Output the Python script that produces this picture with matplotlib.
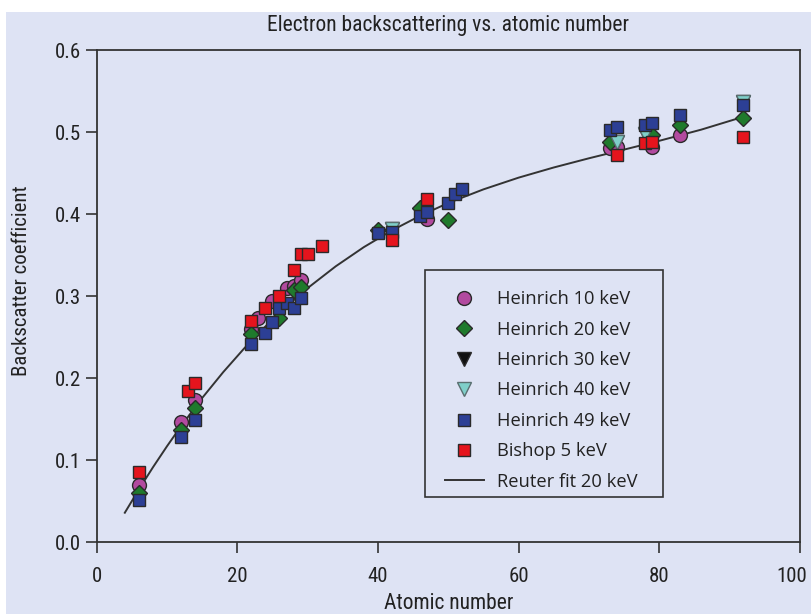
import matplotlib
matplotlib.use("Agg")
import matplotlib.pyplot as plt
from matplotlib.patches import Rectangle
from matplotlib.transforms import ScaledTranslation
from matplotlib import font_manager

# Heinrich 10 keV
h10_z = [6, 12, 14, 22, 23, 25, 27, 28, 29, 47, 73, 74, 79, 83]
h10_eta = [0.069, 0.146, 0.173, 0.260, 0.273, 0.294, 0.310, 0.312, 0.319, 0.394, 0.480, 0.482, 0.482, 0.496]

# Heinrich 20 keV
h20_z = [6, 12, 14, 22, 26, 28, 29, 40, 46, 50, 73, 79, 83, 92]
h20_eta = [0.060, 0.137, 0.163, 0.254, 0.273, 0.307, 0.311, 0.380, 0.407, 0.393, 0.488, 0.496, 0.509, 0.517]

# Heinrich 30 keV
h30_z = [42, 74, 78, 92]
h30_eta = [0.382, 0.488, 0.498, 0.537]

# Heinrich 40 keV
h40_z = [42, 74, 78, 92]
h40_eta = [0.382, 0.488, 0.498, 0.537]

# Heinrich 49 keV
h49_z = [6, 12, 14, 22, 24, 25, 26, 27, 28, 29, 40, 42, 46, 47, 50, 51, 52, 73, 74, 78, 79, 83, 92]
h49_eta = [0.051, 0.128, 0.149, 0.241, 0.255, 0.268, 0.285, 0.291, 0.285, 0.298, 0.377, 0.378,
           0.397, 0.402, 0.414, 0.425, 0.431, 0.502, 0.506, 0.509, 0.511, 0.521, 0.533]

# Bishop 5 keV
b5_z = [6, 13, 14, 22, 24, 26, 28, 29, 30, 32, 42, 47, 74, 78, 79, 92]
b5_eta = [0.085, 0.184, 0.194, 0.270, 0.285, 0.300, 0.332, 0.351, 0.351, 0.361, 0.368, 0.418,
          0.472, 0.486, 0.488, 0.494]

# Reuter fit, 20 keV (tabulated)
fit_z = [4, 6, 8, 10, 12, 15, 18, 21, 24, 27, 30, 34, 38, 42, 46, 50, 55, 60, 65, 70, 75, 80, 86, 92]
fit_eta = [0.0357, 0.0641, 0.0911, 0.1168, 0.1413, 0.1756, 0.2072, 0.2363, 0.2629, 0.2873,
           0.3096, 0.3362, 0.3596, 0.3800, 0.3978, 0.4134, 0.4300, 0.4443, 0.4567, 0.4679,
           0.4785, 0.4892, 0.5029, 0.5186]

x_ticks = [0, 20, 40, 60, 80, 100]
y_ticks = [0.0, 0.1, 0.2, 0.3, 0.4, 0.5, 0.6]


def pick_font(names):
    for n in names:
        try:
            font_manager.findfont(n, fallback_to_default=False)
            return n
        except Exception:
            continue
    return "DejaVu Sans"


NARROW = pick_font(["Liberation Sans Narrow", "Roboto Condensed", "Open Sans Condensed", "Liberation Sans"])
BODY = pick_font(["Open Sans", "Lato", "Noto Sans"])

BG = "#dee3f4"
INK = "#333333"
TXT = "#222222"
W, H = 811, 614

fig = plt.figure(figsize=(W / 100, H / 100), dpi=100)
fig.patch.set_facecolor("white")
fig.patches.append(Rectangle((6 / W, 0), 1, (H - 12) / H, transform=fig.transFigure,
                             facecolor=BG, edgecolor="none", zorder=-5))

ax = fig.add_axes([96.7 / W, (H - 542) / H, 703 / W, 492 / H])
ax.set_zorder(2)
ax.set_facecolor(BG)

edge = dict(markeredgecolor="#2a2a2a", markeredgewidth=1.0, linestyle="none")
ax.plot(h10_z, h10_eta, marker="o", markersize=10, markerfacecolor="#b24a9f",
        label="Heinrich 10 keV", **edge)
ax.plot(h20_z, h20_eta, marker="D", markersize=8.5, markerfacecolor="#1f7a2c",
        label="Heinrich 20 keV", **edge)
ax.plot(h30_z, h30_eta, marker="v", markersize=10, markerfacecolor="#111111",
        label="Heinrich 30 keV", **edge)
ax.plot(h40_z, h40_eta, marker="v", markersize=10, markerfacecolor="#7fcfc9",
        label="Heinrich 40 keV", markeredgecolor="#5a6f70", markeredgewidth=1.0, linestyle="none")
ax.plot(h49_z, h49_eta, marker="s", markersize=9, markerfacecolor="#2c3f95",
        label="Heinrich 49 keV", **edge)
ax.plot(b5_z, b5_eta, marker="s", markersize=9, markerfacecolor="#e5141d",
        label="Bishop 5 keV", **edge)
ax.plot(fit_z, fit_eta, color=INK, linewidth=1.4, label="Reuter fit 20 keV", zorder=1.5)

ax.set_xlim(0, 100)
ax.set_ylim(0, 0.6)
ax.set_xticks(x_ticks)
ax.set_yticks(y_ticks)
ax.set_xticklabels([f"{v:d}" for v in x_ticks], fontfamily=NARROW, fontsize=15)
ax.set_yticklabels([f"{v:.1f}" for v in y_ticks], fontfamily=NARROW, fontsize=15)
ax.tick_params(axis="x", direction="out", length=8, width=1.2, color=INK, pad=10, labelcolor=TXT)
ax.tick_params(axis="y", direction="out", length=8, width=1.2, color=INK, pad=3, labelcolor=TXT)
# keep the last x label inside the canvas
last = ax.get_xticklabels()[-1]
last.set_transform(last.get_transform() + ScaledTranslation(-6 / 72, 0, fig.dpi_scale_trans))
for s in ax.spines.values():
    s.set_color(INK)
    s.set_linewidth(1.3)

ax.set_title("Electron backscattering vs. atomic number", fontfamily=NARROW, fontsize=15.5,
             color=TXT, pad=14)
ax.set_xlabel("Atomic number", fontfamily=NARROW, fontsize=15.5, color=TXT, labelpad=5)
ax.set_ylabel("Backscatter coefficient", fontfamily=NARROW, fontsize=15, color=TXT)
ax.yaxis.set_label_coords(-0.093, 0.532)

# legend box
ax.add_patch(Rectangle((0.467, 0.0915), 0.3385, 0.4615, transform=ax.transAxes,
                       facecolor=BG, edgecolor=INK, linewidth=1.2, zorder=4))
leg = ax.legend(loc="upper left", bbox_to_anchor=(0.467, 0.553), frameon=False,
                borderpad=1.1, labelspacing=0.68, handlelength=2.1, handletextpad=0.75,
                borderaxespad=0, prop={"family": BODY, "size": 13.2})
leg.set_zorder(5)
for t in leg.get_texts():
    t.set_color(TXT)

fig.savefig("out.png", dpi=100, facecolor=fig.get_facecolor())
